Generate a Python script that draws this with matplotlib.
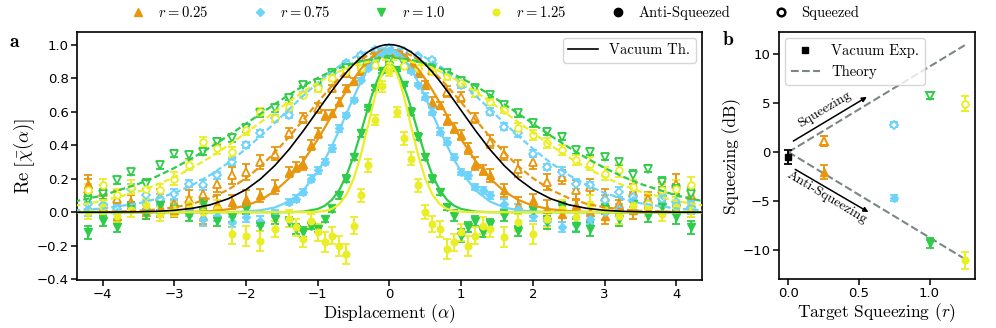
import numpy as np
import matplotlib.pyplot as plt
from matplotlib.lines import Line2D
from matplotlib.font_manager import FontProperties

# ---- panel a data: displacement grids ----
alpha_open = [-4.2, -4.0, -3.8, -3.6, -3.4, -3.2, -3.0, -2.8, -2.6, -2.4, -2.2,
              -2.0, -1.8, -1.6, -1.4, -1.2, -1.0, -0.8, -0.6, -0.4, -0.2, 0.0,
              0.2, 0.4, 0.6, 0.8, 1.0, 1.2, 1.4, 1.6, 1.8, 2.0, 2.2,
              2.4, 2.6, 2.8, 3.0, 3.2, 3.4, 3.6, 3.8, 4.0, 4.2]
alpha_filled = [-4.2, -4.0, -3.8, -3.6, -3.4, -3.2, -3.0, -2.8, -2.6, -2.4, -2.2, -2.0, -1.8, -1.6, -1.4,
                -1.3, -1.2, -1.1, -1.0, -0.9, -0.8, -0.7, -0.6, -0.5, -0.4, -0.3, -0.2, -0.1,
                0.0, 0.1, 0.2, 0.3, 0.4, 0.5, 0.6, 0.7, 0.8, 0.9, 1.0, 1.1, 1.2, 1.3,
                1.4, 1.6, 1.8, 2.0, 2.2, 2.4, 2.6, 2.8, 3.0, 3.2, 3.4, 3.6, 3.8, 4.0, 4.2]

# squeezed (open markers)
sq_025 = [0.14, 0.12, 0.08, 0.06, 0.03, 0.09, 0.05, 0.08, 0.11, 0.17, 0.22,
          0.24, 0.30, 0.35, 0.47, 0.56, 0.62, 0.74, 0.83, 0.90, 0.93, 0.96,
          0.94, 0.88, 0.85, 0.72, 0.69, 0.56, 0.42, 0.35, 0.26, 0.30, 0.18,
          0.21, 0.13, 0.15, 0.09, 0.05, 0.12, 0.08, 0.14, 0.17, 0.10]
sq_025_err = [0.06, 0.04, 0.05, 0.04, 0.04, 0.05, 0.06, 0.05, 0.04, 0.05, 0.05,
              0.05, 0.04, 0.04, 0.03, 0.03, 0.03, 0.02, 0.02, 0.02, 0.02, 0.02,
              0.02, 0.02, 0.02, 0.03, 0.03, 0.03, 0.04, 0.04, 0.05, 0.04, 0.05,
              0.04, 0.06, 0.05, 0.05, 0.04, 0.05, 0.04, 0.06, 0.06, 0.05]
sq_075 = [0.05, 0.04, 0.02, 0.14, 0.10, 0.08, 0.11, 0.17, 0.16, 0.22, 0.30,
          0.40, 0.47, 0.56, 0.58, 0.70, 0.75, 0.83, 0.89, 0.94, 0.97, 0.98,
          0.96, 0.93, 0.91, 0.83, 0.76, 0.71, 0.60, 0.51, 0.47, 0.35, 0.27,
          0.24, 0.17, 0.16, 0.07, 0.12, 0.09, 0.05, 0.08, 0.06, 0.03]
sq_075_err = [0.03, 0.03, 0.03, 0.03, 0.03, 0.03, 0.03, 0.02, 0.03, 0.02, 0.02,
              0.02, 0.02, 0.02, 0.02, 0.02, 0.02, 0.01, 0.01, 0.01, 0.01, 0.01,
              0.01, 0.01, 0.01, 0.01, 0.02, 0.02, 0.02, 0.02, 0.02, 0.02, 0.02,
              0.03, 0.03, 0.02, 0.03, 0.03, 0.03, 0.03, 0.03, 0.03, 0.03]
sq_100 = [0.07, 0.11, 0.19, 0.24, 0.17, 0.28, 0.35, 0.34, 0.36, 0.42, 0.44,
          0.50, 0.59, 0.62, 0.68, 0.76, 0.77, 0.83, 0.86, 0.88, 0.90, 0.91,
          0.89, 0.87, 0.86, 0.83, 0.78, 0.74, 0.70, 0.64, 0.59, 0.53, 0.48,
          0.45, 0.37, 0.36, 0.33, 0.30, 0.22, 0.26, 0.18, 0.14, 0.11]
sq_100_err = [0.03, 0.03, 0.02, 0.02, 0.03, 0.02, 0.02, 0.02, 0.02, 0.02, 0.02,
              0.02, 0.02, 0.02, 0.01, 0.01, 0.01, 0.01, 0.01, 0.01, 0.01, 0.01,
              0.01, 0.01, 0.01, 0.01, 0.01, 0.02, 0.02, 0.02, 0.02, 0.02, 0.02,
              0.02, 0.02, 0.02, 0.02, 0.02, 0.03, 0.02, 0.03, 0.03, 0.03]
sq_125 = [0.13, 0.16, 0.10, 0.15, 0.14, 0.13, 0.20, 0.28, 0.42, 0.38, 0.36,
          0.49, 0.60, 0.56, 0.63, 0.70, 0.74, 0.80, 0.84, 0.86, 0.88, 0.88,
          0.87, 0.86, 0.84, 0.81, 0.77, 0.71, 0.66, 0.61, 0.50, 0.46, 0.41,
          0.37, 0.31, 0.29, 0.23, 0.25, 0.15, 0.05, 0.13, 0.14, 0.16]
sq_125_err = [0.04, 0.04, 0.04, 0.04, 0.04, 0.04, 0.04, 0.03, 0.03, 0.03, 0.03,
              0.03, 0.02, 0.02, 0.02, 0.02, 0.02, 0.02, 0.01, 0.01, 0.01, 0.01,
              0.01, 0.01, 0.02, 0.02, 0.02, 0.02, 0.02, 0.02, 0.03, 0.03, 0.03,
              0.03, 0.03, 0.04, 0.04, 0.04, 0.04, 0.04, 0.04, 0.05, 0.05]

# anti-squeezed (filled markers)
anti_025 = [0.17, 0.03, -0.02, 0.05, 0.00, 0.02, 0.01, 0.04, -0.02, 0.05, 0.06, 0.08, 0.10, 0.15, 0.24,
            0.27, 0.29, 0.40, 0.47, 0.58, 0.59, 0.66, 0.74, 0.78, 0.84, 0.89, 0.93, 0.95,
            0.96, 0.95, 0.93, 0.88, 0.83, 0.76, 0.66, 0.64, 0.55, 0.50, 0.46, 0.38, 0.29, 0.25,
            0.22, 0.13, 0.04, 0.07, 0.02, -0.01, 0.04, 0.00, -0.02, 0.03, 0.01, 0.05, 0.12, 0.06, 0.02]
anti_025_err = [0.05, 0.04, 0.04, 0.05, 0.04, 0.05, 0.04, 0.05, 0.05, 0.05, 0.04, 0.05, 0.04, 0.04, 0.03,
                0.03, 0.04, 0.03, 0.03, 0.03, 0.02, 0.02, 0.02, 0.02, 0.02, 0.02, 0.02, 0.02,
                0.02, 0.02, 0.02, 0.02, 0.02, 0.02, 0.03, 0.02, 0.03, 0.03, 0.03, 0.03, 0.04, 0.03,
                0.04, 0.04, 0.05, 0.04, 0.05, 0.05, 0.04, 0.05, 0.05, 0.04, 0.05, 0.05, 0.06, 0.05, 0.05]
anti_075 = [0.02, 0.05, 0.00, 0.03, 0.02, 0.01, 0.03, 0.01, -0.04, -0.02, -0.06, -0.03, -0.05, -0.02, 0.06,
            0.08, 0.12, 0.20, 0.25, 0.30, 0.38, 0.50, 0.58, 0.67, 0.79, 0.86, 0.90, 0.95,
            0.96, 0.95, 0.92, 0.84, 0.76, 0.69, 0.60, 0.48, 0.42, 0.33, 0.24, 0.22, 0.15, 0.13,
            0.10, 0.05, 0.02, -0.02, -0.05, -0.09, -0.07, -0.04, 0.00, 0.02, 0.07, 0.04, 0.10, 0.05, 0.03]
anti_075_err = [0.04, 0.03, 0.04, 0.03, 0.03, 0.03, 0.04, 0.03, 0.04, 0.03, 0.03, 0.03, 0.03, 0.03, 0.02,
                0.02, 0.02, 0.02, 0.02, 0.02, 0.02, 0.02, 0.01, 0.01, 0.01, 0.01, 0.01, 0.01,
                0.01, 0.01, 0.01, 0.01, 0.01, 0.02, 0.02, 0.02, 0.02, 0.02, 0.02, 0.02, 0.02, 0.02,
                0.02, 0.03, 0.03, 0.03, 0.03, 0.03, 0.04, 0.03, 0.04, 0.03, 0.04, 0.04, 0.04, 0.04, 0.04]
anti_100 = [-0.12, -0.05, -0.09, 0.03, -0.01, 0.04, 0.02, -0.02, 0.05, -0.05, -0.03, 0.02, -0.08, -0.04, -0.06,
            -0.10, -0.12, -0.08, -0.10, -0.04, 0.02, 0.10, 0.20, 0.33, 0.47, 0.62, 0.74, 0.84,
            0.87, 0.85, 0.76, 0.60, 0.45, 0.33, 0.20, 0.12, 0.03, -0.02, -0.14, -0.09, -0.05, -0.12,
            -0.07, -0.02, -0.11, 0.01, -0.06, 0.03, -0.08, -0.10, 0.02, -0.04, 0.05, -0.02, 0.03, -0.03, -0.09]
anti_100_err = [0.04, 0.03, 0.03, 0.03, 0.03, 0.03, 0.04, 0.03, 0.03, 0.03, 0.03, 0.03, 0.03, 0.03, 0.03,
                0.03, 0.03, 0.02, 0.02, 0.02, 0.02, 0.02, 0.02, 0.02, 0.02, 0.01, 0.01, 0.01,
                0.01, 0.01, 0.01, 0.02, 0.02, 0.02, 0.02, 0.02, 0.02, 0.03, 0.04, 0.03, 0.03, 0.03,
                0.03, 0.03, 0.03, 0.03, 0.04, 0.03, 0.04, 0.04, 0.03, 0.04, 0.04, 0.04, 0.04, 0.04, 0.04]
anti_125 = [0.00, 0.03, -0.02, 0.01, 0.04, -0.01, 0.02, 0.05, 0.00, 0.02, -0.13, -0.14, -0.17, -0.10, -0.04,
            -0.09, -0.16, -0.05, -0.12, -0.18, -0.14, -0.20, -0.25, -0.08, 0.10, 0.28, 0.55, 0.75,
            0.84, 0.60, 0.44, 0.32, 0.16, 0.00, -0.07, -0.10, -0.22, -0.18, -0.12, -0.20, -0.14, -0.08,
            -0.10, -0.15, -0.06, -0.13, -0.04, 0.02, -0.03, 0.05, 0.01, -0.02, 0.04, 0.02, -0.01, 0.03, 0.01]
anti_125_err = [0.04, 0.04, 0.04, 0.04, 0.04, 0.04, 0.04, 0.04, 0.05, 0.05, 0.06, 0.06, 0.06, 0.05, 0.05,
                0.05, 0.05, 0.04, 0.05, 0.06, 0.05, 0.06, 0.06, 0.05, 0.04, 0.04, 0.03, 0.03,
                0.03, 0.03, 0.04, 0.04, 0.04, 0.04, 0.05, 0.05, 0.06, 0.05, 0.05, 0.06, 0.05, 0.05,
                0.05, 0.06, 0.05, 0.06, 0.05, 0.05, 0.04, 0.05, 0.05, 0.05, 0.05, 0.04, 0.04, 0.04, 0.04]

# fitted / theory curves, read at alpha >= 0 (curves are symmetric)
alpha_fit = [0.0, 0.05, 0.1, 0.15, 0.2, 0.25, 0.3, 0.4, 0.5, 0.6, 0.7, 0.8, 0.9, 1.0,
             1.2, 1.4, 1.6, 1.8, 2.0, 2.25, 2.5, 2.75, 3.0, 3.25, 3.5, 4.0, 4.4]
vac_fit = [1.0, 0.999, 0.995, 0.989, 0.980, 0.969, 0.956, 0.923, 0.882, 0.835, 0.783, 0.726, 0.667, 0.607,
           0.487, 0.375, 0.278, 0.198, 0.135, 0.080, 0.044, 0.023, 0.011, 0.005, 0.002, 0.0, 0.0]
fit_anti_025 = [0.970, 0.968, 0.962, 0.953, 0.940, 0.923, 0.902, 0.854, 0.794, 0.727, 0.655, 0.581, 0.507, 0.435,
                0.306, 0.202, 0.125, 0.072, 0.039, 0.017, 0.006, 0.002, 0.001, 0.0, 0.0, 0.0, 0.0]
fit_sq_025 = [0.970, 0.969, 0.966, 0.961, 0.955, 0.946, 0.936, 0.911, 0.880, 0.842, 0.800, 0.755, 0.706, 0.656,
              0.552, 0.450, 0.356, 0.273, 0.203, 0.134, 0.084, 0.050, 0.029, 0.016, 0.008, 0.002, 0.001]
fit_anti_075 = [0.970, 0.967, 0.957, 0.940, 0.918, 0.889, 0.856, 0.777, 0.686, 0.588, 0.491, 0.399, 0.315, 0.242,
                0.131, 0.064, 0.028, 0.011, 0.004, 0.001, 0.0, 0.0, 0.0, 0.0, 0.0, 0.0, 0.0]
fit_sq_075 = [0.980, 0.979, 0.978, 0.975, 0.971, 0.965, 0.959, 0.943, 0.923, 0.900, 0.872, 0.842, 0.808, 0.773,
              0.696, 0.615, 0.533, 0.454, 0.379, 0.294, 0.222, 0.162, 0.115, 0.079, 0.053, 0.022, 0.010]
fit_anti_100 = [0.880, 0.872, 0.847, 0.807, 0.754, 0.692, 0.622, 0.475, 0.335, 0.219, 0.133, 0.075, 0.039, 0.019,
                0.003, 0.0, 0.0, 0.0, 0.0, 0.0, 0.0, 0.0, 0.0, 0.0, 0.0, 0.0, 0.0]
fit_sq_100 = [0.920, 0.920, 0.919, 0.917, 0.915, 0.912, 0.909, 0.900, 0.889, 0.875, 0.860, 0.842, 0.822, 0.801,
              0.754, 0.701, 0.645, 0.587, 0.529, 0.456, 0.387, 0.323, 0.264, 0.213, 0.169, 0.100, 0.063]
fit_anti_125 = [0.880, 0.867, 0.829, 0.770, 0.694, 0.607, 0.515, 0.340, 0.199, 0.104, 0.048, 0.020, 0.007, 0.002,
                0.0, 0.0, 0.0, 0.0, 0.0, 0.0, 0.0, 0.0, 0.0, 0.0, 0.0, 0.0, 0.0]
fit_sq_125 = [0.910, 0.910, 0.909, 0.907, 0.904, 0.901, 0.897, 0.887, 0.874, 0.858, 0.840, 0.820, 0.797, 0.773,
              0.719, 0.661, 0.599, 0.536, 0.474, 0.398, 0.328, 0.265, 0.209, 0.162, 0.123, 0.067, 0.038]

# ---- panel b data ----
r_target = [0.25, 0.75, 1.0, 1.25]
sq_db = [1.1, 2.8, 5.7, 4.9]
sq_db_err = [0.5, 0.3, 0.35, 0.75]
anti_db = [-2.0, -4.65, -9.2, -11.0]
anti_db_err = [0.7, 0.3, 0.5, 0.85]
vac_db = [-0.5]
vac_db_err = [0.75]
theory_r = [0.0, 1.25]
theory_sq_db = [0.0, 10.86]
theory_anti_db = [0.0, -10.86]

labels_r = [r'$r = 0.25$', r'$r = 0.75$', r'$r = 1.0$', r'$r = 1.25$']
colors = ['#E8960E', '#6DD3FA', '#2ECC48', '#EAEE25']
markers = ['^', 'D', 'v', 'o']
msizes = [5.8, 4.4, 5.8, 4.8]

sq_sets = [(sq_025, sq_025_err), (sq_075, sq_075_err), (sq_100, sq_100_err), (sq_125, sq_125_err)]
anti_sets = [(anti_025, anti_025_err), (anti_075, anti_075_err), (anti_100, anti_100_err), (anti_125, anti_125_err)]
fits_sq = [fit_sq_025, fit_sq_075, fit_sq_100, fit_sq_125]
fits_anti = [fit_anti_025, fit_anti_075, fit_anti_100, fit_anti_125]

plt.rcParams['mathtext.fontset'] = 'cm'
plt.rcParams['axes.linewidth'] = 1.2
serif = FontProperties(family='cmr10', size=12.5)
serif_big = FontProperties(family='cmr10', size=13.5)
legfont = FontProperties(family='cmr10', size=10.5)
bold = FontProperties(family='cmb10', size=14)


def mirror(x, y):
    x = np.asarray(x)
    y = np.asarray(y)
    return np.concatenate([-x[::-1], x[1:]]), np.concatenate([y[::-1], y[1:]])


fig = plt.figure(figsize=(9.96, 3.28), dpi=100)
ax1 = fig.add_axes([0.0773, 0.1463, 0.6275, 0.756])
ax2 = fig.add_axes([0.7821, 0.1494, 0.1968, 0.753])

# panel a
for i in range(4):
    c = colors[i]
    y, e = sq_sets[i]
    ax1.errorbar(alpha_open, y, yerr=e, fmt=markers[i], ms=msizes[i], color=c, mfc='white', mec=c,
                 mew=1.3, elinewidth=1.4, capsize=2.6, capthick=1.3, zorder=2)
    y, e = anti_sets[i]
    ax1.errorbar(alpha_filled, y, yerr=e, fmt=markers[i], ms=msizes[i], color=c, mec=c,
                 elinewidth=1.4, capsize=2.6, capthick=1.3, zorder=2)

for i in range(4):
    xs, ys = mirror(alpha_fit, fits_sq[i])
    ax1.plot(xs, ys, color=colors[i], lw=1.6, dashes=(2.8, 1.4), zorder=3)
    xs, ys = mirror(alpha_fit, fits_anti[i])
    ax1.plot(xs, ys, color=colors[i], lw=1.6, zorder=3)

xs, ys = mirror(alpha_fit, vac_fit)
ax1.plot(xs, ys, color='black', lw=1.2, zorder=4)

ax1.set_xlim(-4.36, 4.36)
ax1.set_ylim(-0.405, 1.075)
ax1.set_xticks([-4, -3, -2, -1, 0, 1, 2, 3, 4])
ax1.set_yticks([-0.4, -0.2, 0.0, 0.2, 0.4, 0.6, 0.8, 1.0])
ax1.set_xlabel(r'Displacement ($\alpha$)', fontproperties=serif, labelpad=1)
ax1.set_ylabel(r'$\mathrm{Re}\;\left[\bar{\chi}(\alpha)\right]$', fontproperties=serif_big, labelpad=0)
ax1.legend([Line2D([], [], color='black', lw=1.2)], ['Vacuum Th.'], loc='upper right',
           prop=legfont, handlelength=2.0, borderaxespad=0.4)

# panel b
gray = '#7b8686'
ax2.plot(theory_r, theory_sq_db, '--', color=gray, lw=1.5, zorder=1)
ax2.plot(theory_r, theory_anti_db, '--', color=gray, lw=1.5, zorder=1)
ax2.errorbar([0.0], vac_db, yerr=vac_db_err, fmt='s', ms=4.5, color='black', elinewidth=1.4,
             capsize=3, capthick=1.3, zorder=3)
for i in range(4):
    c = colors[i]
    ax2.errorbar([r_target[i]], [sq_db[i]], yerr=[sq_db_err[i]], fmt=markers[i], ms=msizes[i],
                 color=c, mfc='white', mec=c, mew=1.4, elinewidth=1.4, capsize=3, capthick=1.3, zorder=3)
    ax2.errorbar([r_target[i]], [anti_db[i]], yerr=[anti_db_err[i]], fmt=markers[i], ms=msizes[i],
                 color=c, elinewidth=1.4, capsize=3, capthick=1.3, zorder=3)

arrow = dict(arrowstyle='-|>', color='black', lw=1.1, mutation_scale=7, shrinkA=0, shrinkB=0)
ax2.annotate('', xy=(0.556, 5.6), xytext=(0.035, 1.12), arrowprops=arrow)
ax2.annotate('', xy=(0.567, -6.1), xytext=(0.048, -1.76), arrowprops=arrow)
ax2.text(0.26, 4.3, 'Squeezing', rotation=31, ha='center', va='center',
         rotation_mode='anchor', fontproperties=FontProperties(family='cmr10', size=10))
ax2.text(0.27, -4.6, 'Anti-Squeezing', rotation=-31, ha='center', va='center',
         rotation_mode='anchor', fontproperties=FontProperties(family='cmr10', size=10))

ax2.set_xlim(-0.067, 1.322)
ax2.set_ylim(-12.9, 12.2)
ax2.set_xticks([0.0, 0.5, 1.0])
ax2.set_yticks([-10, -5, 0, 5, 10])
ax2.set_xlabel(r'Target Squeezing ($r$)', fontproperties=serif, labelpad=1)
ax2.set_ylabel('Squeezing (dB)', fontproperties=serif, labelpad=1)
ax2.legend([Line2D([], [], marker='s', color='black', ls='none', ms=5),
            Line2D([], [], color=gray, ls='--', lw=1.5)],
           ['Vacuum Exp.', 'Theory'], loc='upper left', prop=legfont, handlelength=2.0,
           borderaxespad=0.4)

for ax in (ax1, ax2):
    ax.tick_params(direction='out', length=4, width=1.1, labelsize=9.5, pad=2)

# top legend
handles = [Line2D([], [], marker=markers[i], color=colors[i], ls='none', ms=msizes[i]) for i in range(4)]
handles.append(Line2D([], [], marker='o', color='black', ls='none', ms=6))
handles.append(Line2D([], [], marker='o', color='black', mfc='white', mew=1.8, ls='none', ms=5.5))
fig.legend(handles, labels_r + ['Anti-Squeezed', 'Squeezed'], loc='upper center',
           bbox_to_anchor=(0.497, 1.025), ncol=6, frameon=False, prop=legfont,
           handlelength=1.0, handletextpad=0.9, columnspacing=3.0)

fig.text(0.014, 0.872, 'a', fontproperties=bold, ha='center', va='center')
fig.text(0.731, 0.877, 'b', fontproperties=bold, ha='center', va='center')

fig.savefig('out.png', dpi=100)
